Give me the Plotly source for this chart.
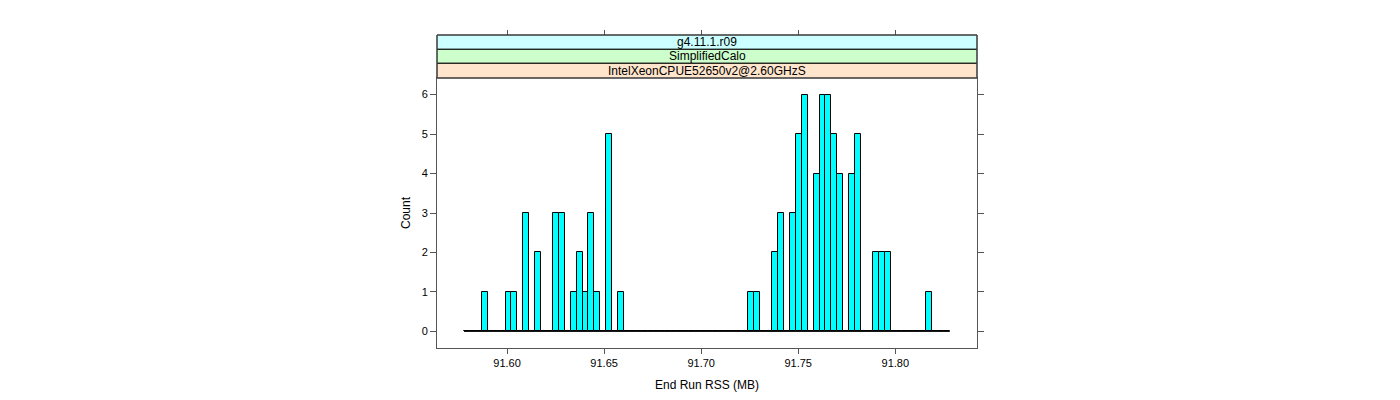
import plotly.graph_objects as go

# ---- data ----
bin_left_edge = 91.57784          # left edge of first histogram bin (MB)
bin_width = 0.003052              # histogram bin width (MB)
counts = [0, 0, 0, 1, 0, 0, 0, 1, 1, 0,
          3, 0, 2, 0, 0, 3, 3, 0, 1, 2,
          1, 3, 1, 0, 5, 0, 1, 0, 0, 0,
          0, 0, 0, 0, 0, 0, 0, 0, 0, 0,
          0, 0, 0, 0, 0, 0, 0, 0, 1, 1,
          0, 0, 2, 3, 0, 3, 5, 6, 0, 4,
          6, 6, 5, 4, 0, 4, 5, 0, 0, 2,
          2, 2, 0, 0, 0, 0, 0, 0, 1, 0,
          0, 0]
x_tick_values = [91.60, 91.65, 91.70, 91.75, 91.80]
x_tick_labels = ["91.60", "91.65", "91.70", "91.75", "91.80"]
y_tick_values = [0, 1, 2, 3, 4, 5, 6]
strip_labels = ["g4.11.1.r09", "SimplifiedCalo", "IntelXeonCPUE52650v2@2.60GHzS"]
x_title = "End Run RSS (MB)"
y_title = "Count"

# ---- derived ----
n = len(counts)
centers = [bin_left_edge + (i + 0.5) * bin_width for i in range(n)]
right_edge = bin_left_edge + n * bin_width

FONT = "Liberation Sans, Arial, Helvetica, sans-serif"
AXC = "#555555"

fig = go.Figure()

# baseline (zero-height bins)
fig.add_trace(go.Scatter(
    x=[bin_left_edge, right_edge], y=[0, 0], mode="lines",
    line=dict(color="black", width=1), hoverinfo="skip", showlegend=False))

fig.add_trace(go.Bar(
    x=centers, y=counts, width=[bin_width] * n,
    marker=dict(color="#00FFFF", line=dict(color="black", width=1)),
    showlegend=False))

# invisible trace on top axis so ticks appear
fig.add_trace(go.Scatter(x=[x_tick_values[0]], y=[0], xaxis="x2", mode="markers",
                         marker=dict(opacity=0), hoverinfo="skip", showlegend=False))

xr = [91.5639, 91.8421]
ydom_top = 270 / 313

fig.update_layout(
    width=1400, height=400,
    margin=dict(l=429, r=431, t=27, b=60),
    paper_bgcolor="white", plot_bgcolor="white",
    font=dict(family=FONT, size=11, color="black"),
    bargap=0,
    xaxis=dict(range=xr, tickvals=x_tick_values, ticktext=x_tick_labels,
               ticks="outside", ticklen=5, tickcolor=AXC, showline=True,
               linecolor=AXC, mirror=True, showgrid=False, zeroline=False,
               title=dict(text=x_title, font=dict(size=12), standoff=12),
               tickfont=dict(size=11)),
    xaxis2=dict(range=xr, overlaying="x", anchor="free", position=1, side="top",
                tickvals=x_tick_values, ticks="outside", ticklen=5, tickcolor=AXC,
                showticklabels=False, showline=False, showgrid=False, zeroline=False),
    yaxis=dict(range=[-0.42, 6.42], domain=[0, ydom_top], tickvals=y_tick_values,
               ticks="outside", ticklen=6, tickcolor=AXC, showline=True,
               linecolor=AXC, mirror="ticks", showgrid=False, zeroline=False,
               title=dict(text=y_title, font=dict(size=12), standoff=8),
               tickfont=dict(size=11)),
)

# strips (bottom level first)
strip_colors = ["#CCFFFF", "#CCFFCC", "#FFE5CC"]
bounds = [1.0, 0.9543, 0.9096, ydom_top]
for i, (lab, col) in enumerate(zip(strip_labels, strip_colors)):
    y1, y0 = bounds[i], bounds[i + 1]
    fig.add_shape(type="rect", xref="paper", yref="paper", x0=0, x1=1, y0=y0, y1=y1,
                  fillcolor=col, line=dict(color="black", width=1), layer="above")
    fig.add_annotation(xref="paper", yref="paper", x=0.5, y=(y0 + y1) / 2,
                       text=lab, showarrow=False, font=dict(size=12, color="black"),
                       xanchor="center", yanchor="middle")
# outer border of strips in gray
fig.add_shape(type="rect", xref="paper", yref="paper", x0=0, x1=1, y0=ydom_top, y1=1,
              line=dict(color=AXC, width=1), layer="above")

fig.write_html("out.html")
